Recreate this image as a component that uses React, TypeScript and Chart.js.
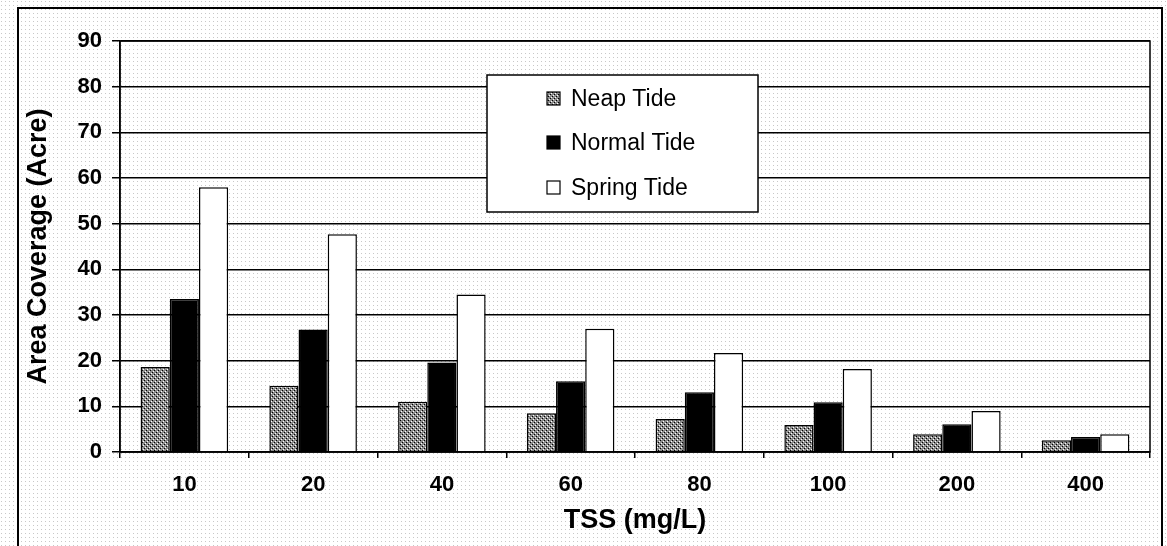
import React, { useEffect, useRef } from "react";
import { Chart, registerables } from "chart.js";

Chart.register(...registerables);

const categories = ["10", "20", "40", "60", "80", "100", "200", "400"];
const neapTide = [18.6, 14.5, 11, 8.5, 7.2, 5.9, 3.9, 2.6];
const normalTide = [33.5, 26.8, 19.6, 15.5, 13.1, 10.9, 6.1, 3.3];
const springTide = [58, 47.7, 34.5, 27, 21.7, 18.2, 9, 3.9];
const seriesLabels = ["Neap Tide", "Normal Tide", "Spring Tide"];
const yTicks = [0, 10, 20, 30, 40, 50, 60, 70, 80, 90];

const FONT = "'Liberation Sans', Arial, sans-serif";

function makeNeapPattern(): CanvasPattern | string {
  const c = document.createElement("canvas");
  c.width = 4;
  c.height = 4;
  const g = c.getContext("2d");
  if (!g) return "#8c8c8c";
  g.fillStyle = "#8c8c8c";
  g.fillRect(0, 0, 4, 4);
  g.fillStyle = "#000";
  g.fillRect(0, 0, 1, 1);
  g.fillRect(2, 2, 1, 1);
  g.fillStyle = "#fff";
  g.fillRect(3, 1, 1, 1);
  g.fillRect(1, 3, 1, 1);
  const p = g.createPattern(c, "repeat");
  return p || "#8c8c8c";
}

function makeBgPattern(ctx: CanvasRenderingContext2D): CanvasPattern | string {
  const c = document.createElement("canvas");
  c.width = 4;
  c.height = 4;
  const g = c.getContext("2d");
  if (!g) return "#fff";
  g.fillStyle = "#fff";
  g.fillRect(0, 0, 4, 4);
  g.fillStyle = "#c8c8c8";
  g.fillRect(1, 1, 1, 1);
  return ctx.createPattern(c, "repeat") || "#fff";
}

export default function App() {
  const ref = useRef<HTMLCanvasElement | null>(null);

  useEffect(() => {
    const canvas = ref.current;
    if (!canvas) return;
    const neapFill = makeNeapPattern();
    const fills: any[] = [neapFill, "#000000", "#ffffff"];

    const framePlugin = {
      id: "frame",
      beforeDraw(chart: any) {
        const ctx = chart.ctx;
        ctx.save();
        ctx.fillStyle = makeBgPattern(ctx);
        ctx.fillRect(0, 0, chart.width, chart.height);
        ctx.strokeStyle = "#000";
        ctx.lineWidth = 2;
        ctx.beginPath();
        ctx.moveTo(18, 546);
        ctx.lineTo(18, 8);
        ctx.lineTo(1162, 8);
        ctx.lineTo(1162, 546);
        ctx.stroke();
        ctx.restore();
      },
      afterDatasetsDraw(chart: any) {
        const ctx = chart.ctx;
        const a = chart.chartArea;
        ctx.save();
        ctx.strokeStyle = "#000";
        ctx.lineWidth = 1.5;
        ctx.strokeRect(a.left, a.top, a.right - a.left, a.bottom - a.top);
        // legend
        const bx = 487, by = 75, bw = 271, bh = 137;
        ctx.fillStyle = "#fff";
        ctx.fillRect(bx, by, bw, bh);
        ctx.strokeRect(bx, by, bw, bh);
        const rows = [99, 143, 188];
        ctx.font = "23px " + FONT;
        ctx.textBaseline = "middle";
        ctx.textAlign = "left";
        chart.data.datasets.forEach((ds: any, i: number) => {
          const y = rows[i];
          ctx.fillStyle = fills[i];
          ctx.fillRect(547, y - 7, 13, 13);
          ctx.lineWidth = 1.2;
          ctx.strokeStyle = "#000";
          ctx.strokeRect(547, y - 7, 13, 13);
          ctx.fillStyle = "#000";
          ctx.fillText(ds.label, 571, y + 1);
        });
        ctx.restore();
      },
    };

    const chart = new Chart(canvas, {
      type: "bar",
      data: {
        labels: categories,
        datasets: [
          { label: seriesLabels[0], data: neapTide, backgroundColor: fills[0], borderColor: "#000", borderWidth: 1.5 },
          { label: seriesLabels[1], data: normalTide, backgroundColor: fills[1], borderColor: "#000", borderWidth: 1.5 },
          { label: seriesLabels[2], data: springTide, backgroundColor: fills[2], borderColor: "#000", borderWidth: 1.5 },
        ],
      },
      options: {
        animation: false,
        responsive: false,
        maintainAspectRatio: false,
        layout: { padding: { top: 41, right: 17, left: 0, bottom: 0 } },
        datasets: { bar: { categoryPercentage: 0.68, barPercentage: 1 } },
        plugins: {
          legend: { display: false },
          tooltip: { enabled: false },
        },
        scales: {
          x: {
            grid: { display: true, drawOnChartArea: false, drawTicks: true, tickLength: 6, color: "#000", lineWidth: 1.5 },
            border: { display: true, color: "#000", width: 1.5 },
            ticks: { color: "#000", font: { family: FONT, size: 22, weight: "bold" }, padding: 14 },
            title: {
              display: true,
              text: "TSS (mg/L)",
              color: "#000",
              font: { family: FONT, size: 27, weight: "bold" },
              padding: { top: 0, bottom: 9 },
            },
            afterFit: (s: any) => {
              s.height = 94;
            },
          },
          y: {
            min: 0,
            max: 90,
            afterBuildTicks: (s: any) => {
              s.ticks = yTicks.map((v) => ({ value: v }));
            },
            grid: { color: "#000", lineWidth: 1.5, tickLength: 8 },
            border: { display: true, color: "#000", width: 1.5 },
            ticks: { color: "#000", font: { family: FONT, size: 22, weight: "bold" }, padding: 10 },
            title: {
              display: true,
              text: "Area Coverage (Acre)",
              color: "#000",
              font: { family: FONT, size: 27, weight: "bold" },
              padding: { top: 22, bottom: 0 },
            },
            afterFit: (s: any) => {
              s.width = 120;
            },
          },
        },
      },
      plugins: [framePlugin],
    });
    return () => chart.destroy();
  }, []);

  return (
    <div style={{ position: "fixed", left: 0, top: 0, width: 1167, height: 546, background: "#fff" }}>
      <canvas ref={ref} width={1167} height={546} style={{ width: 1167, height: 546, display: "block" }} />
    </div>
  );
}
